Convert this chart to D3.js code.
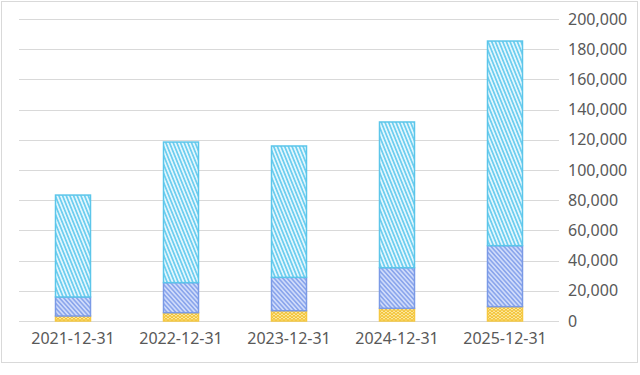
<!DOCTYPE html>
<html>
<head>
<meta charset="utf-8">
<script src="https://cdn.jsdelivr.net/npm/d3@7"></script>
<style>
	body { margin: 0; background: #fff; }
	svg text { font-family: "Noto Sans", "Open Sans", sans-serif; fill: #595959; }
</style>
</head>
<body>
<div id="chart"></div>
<script>
'use strict'

// Data
const categories = ['2021-12-31', '2022-12-31', '2023-12-31', '2024-12-31', '2025-12-31'];
const bottomValues = [3300, 5500, 6800, 8400, 9500];
const middleValues = [12600, 19900, 22100, 26900, 40400];
const topValues = [67500, 93100, 87000, 96500, 135500];
const yTicks = [0, 20000, 40000, 60000, 80000, 100000, 120000, 140000, 160000, 180000, 200000];

const seriesKeys = ['bottom', 'middle', 'top'];
const rows = categories.map((c, i) => ({
	cat: c,
	bottom: bottomValues[i],
	middle: middleValues[i],
	top: topValues[i]
}));

const width = 640;
const height = 375;

const svg = d3.select('#chart')
	.append('svg')
	.attr('width', width)
	.attr('height', height);

// Outer frame
svg.append('rect')
	.attr('x', 1.5).attr('y', 1.5)
	.attr('width', 636).attr('height', 361)
	.attr('fill', '#fff')
	.attr('stroke', '#d9d9d9');

const x = d3.scaleBand()
	.domain(categories)
	.range([19, 559])
	.paddingInner(2/3)
	.paddingOuter(1/3);

const y = d3.scaleLinear()
	.domain([0, 200000])
	.range([321, 19]);

// Hatch patterns
const defs = svg.append('defs');

function linePattern(id, bg, color, angle, gap, sw) {
	const p = defs.append('pattern')
		.attr('id', id)
		.attr('patternUnits', 'userSpaceOnUse')
		.attr('width', gap).attr('height', 10)
		.attr('patternTransform', `rotate(${angle})`);
	p.append('rect').attr('width', gap).attr('height', 10).attr('fill', bg);
	p.append('line')
		.attr('x1', gap/2).attr('y1', 0)
		.attr('x2', gap/2).attr('y2', 10)
		.attr('stroke', color).attr('stroke-width', sw);
}
linePattern('hatchTop', '#e3f6fd', '#66ccef', -22, 3.4, 1.6);
linePattern('hatchMid', '#cfdbfa', '#86a3ec', -42, 3.2, 1.5);

const zig = defs.append('pattern')
	.attr('id', 'hatchBottom')
	.attr('patternUnits', 'userSpaceOnUse')
	.attr('width', 4).attr('height', 3);
zig.append('rect').attr('width', 4).attr('height', 3).attr('fill', '#fde9a6');
zig.append('path')
	.attr('d', 'M0,3 L2,0 L4,3')
	.attr('fill', 'none')
	.attr('stroke', '#f2c12e')
	.attr('stroke-width', 1.1);

const fills = { bottom: 'url(#hatchBottom)', middle: 'url(#hatchMid)', top: 'url(#hatchTop)' };
const strokes = { bottom: '#f5c842', middle: '#7b9ae6', top: '#5cc6ea' };

// Gridlines
svg.append('g')
	.selectAll('line')
	.data(yTicks)
	.enter()
	.append('line')
		.attr('x1', 19).attr('x2', 559)
		.attr('y1', d => Math.round(y(d)) + 0.5)
		.attr('y2', d => Math.round(y(d)) + 0.5)
		.attr('stroke', '#d9d9d9')
		.attr('stroke-width', 1);

// Y axis on the right
const yAxis = d3.axisRight(y)
	.tickValues(yTicks)
	.tickSize(0)
	.tickPadding(9)
	.tickFormat(d3.format(','));
svg.append('g')
	.attr('transform', 'translate(559,0)')
	.call(yAxis)
	.call(g => g.select('.domain').remove())
	.selectAll('text')
		.style('font-size', '16px')
		.attr('fill', '#595959');

// Stacked bars
const stacked = d3.stack().keys(seriesKeys)(rows);

svg.append('g')
	.selectAll('g')
	.data(stacked)
	.enter()
	.append('g')
		.attr('fill', d => fills[d.key])
		.attr('stroke', d => strokes[d.key])
	.selectAll('rect')
	.data(d => d)
	.enter()
	.append('rect')
		.attr('x', d => x(d.data.cat) + 0.5)
		.attr('y', d => y(d[1]))
		.attr('width', x.bandwidth() - 1)
		.attr('height', d => y(d[0]) - y(d[1]))
		.attr('stroke-width', 1.5);

// X axis labels
const xAxis = d3.axisBottom(x).tickSize(0).tickPadding(12);
svg.append('g')
	.attr('transform', 'translate(0,321)')
	.call(xAxis)
	.call(g => g.select('.domain').remove())
	.selectAll('text')
		.style('font-size', '16px')
		.attr('fill', '#595959');
</script>
</body>
</html>
